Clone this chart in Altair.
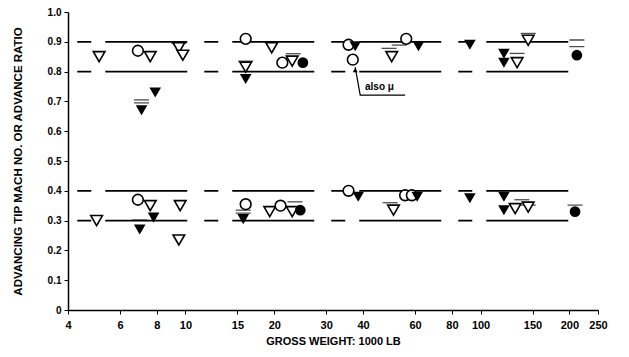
import altair as alt
import pandas as pd

# ---- data (gross weight in 1000 lb, ratio) ----
open_circle_x = [6.9, 16.0, 21.3, 35.7, 36.9, 56.0, 6.9, 16.0, 21.0, 35.7, 55.5, 58.5]
open_circle_y = [0.87, 0.91, 0.83, 0.89, 0.84, 0.91, 0.37, 0.355, 0.35, 0.40, 0.385, 0.385]

open_tri_x = [5.1, 7.6, 9.5, 9.8, 16.0, 19.6, 23.0, 50.0, 133.0, 145.0,
              5.0, 7.6, 9.6, 9.5, 19.3, 23.0, 50.7, 131.0, 145.0]
open_tri_y = [0.85, 0.85, 0.88, 0.855, 0.815, 0.88, 0.835, 0.85, 0.83, 0.905,
              0.30, 0.35, 0.35, 0.235, 0.33, 0.33, 0.335, 0.34, 0.345]

filled_tri_x = [7.1, 7.9, 16.0, 37.6, 61.6, 92.0, 120.0, 120.0,
                7.0, 7.8, 15.7, 38.5, 61.0, 92.0, 120.0, 120.0]
filled_tri_y = [0.67, 0.73, 0.775, 0.885, 0.885, 0.89, 0.86, 0.83,
                0.27, 0.31, 0.305, 0.38, 0.38, 0.375, 0.38, 0.335]

filled_circle_x = [25.0, 212.0, 24.5, 209.0]
filled_circle_y = [0.83, 0.855, 0.335, 0.33]

bar_x = [9.5, 7.1, 7.1, 16.0, 23.2, 49.0, 53.0, 145.0, 133.0, 212.0, 212.0,
         7.0, 15.7, 15.7, 23.5, 49.4, 145.0, 138.0, 209.0]
bar_y = [0.895, 0.705, 0.695, 0.835, 0.86, 0.878, 0.889, 0.928, 0.861, 0.884, 0.906,
         0.302, 0.335, 0.325, 0.363, 0.36, 0.352, 0.37, 0.352]

band_levels = [0.9, 0.8, 0.4, 0.3]
band_start = 4.3
band_end = 226.0

note_x = [37.6, 39.1, 55.5]
note_y = [0.815, 0.721, 0.721]
note_text = "also \u03bc"

x_ticks = [4, 6, 8, 10, 15, 20, 30, 40, 60, 80, 100, 150, 200, 250]
y_ticks = [0, 0.1, 0.2, 0.3, 0.4, 0.5, 0.6, 0.7, 0.8, 0.9, 1.0]

FONT = "Liberation Sans"

xs = alt.Scale(type="log", domain=[4, 250], nice=False, zero=False)
ys = alt.Scale(domain=[0, 1], nice=False, zero=False)

xenc = alt.X("w:Q", scale=xs, title="GROSS WEIGHT: 1000 LB",
             axis=alt.Axis(values=x_ticks, format="d", grid=False,
                           labelFontSize=11, labelFontWeight="bold",
                           titleFontSize=11, titleFontWeight="bold",
                           labelPadding=5, tickSize=4, titleY=31,
                           titleBaseline="middle",
                           labelFlush=False, labelOverlap=False,
                           domainColor="black", tickColor="black",
                           labelColor="black", titleColor="black",
                           domainWidth=1.5, titleFont=FONT, labelFont=FONT))
yenc = alt.Y("r:Q", scale=ys,
             title="ADVANCING TIP MACH NO. OR ADVANCE RATIO",
             axis=alt.Axis(values=y_ticks, grid=False,
                           labelExpr="datum.value == 0 ? '0' : format(datum.value, '.1f')",
                           labelFontSize=10, labelFontWeight="bold",
                           titleFontSize=11.5, titleFontWeight="bold",
                           labelPadding=3, tickSize=4,
                           titleX=-50, titleY=149, titleBaseline="middle",
                           labelFlush=False, labelOverlap=False,
                           domainColor="black", tickColor="black",
                           labelColor="black", titleColor="black",
                           domainWidth=1.5, titleFont=FONT, labelFont=FONT))


def pts(xv, yv):
    return pd.DataFrame({"w": xv, "r": yv})


lines_df = pd.DataFrame({"r": band_levels, "w": [band_start] * 4, "w2": [band_end] * 4})
lines = alt.Chart(lines_df).mark_rule(
    color="black", strokeWidth=1.8, strokeDash=[14, 14, 82, 17]
).encode(x=xenc, x2="w2:Q", y=yenc)

bars = alt.Chart(pts(bar_x, bar_y)).mark_tick(
    orient="horizontal", color="black", size=15, thickness=1.3
).encode(x=xenc, y=yenc)

oc = alt.Chart(pts(open_circle_x, open_circle_y)).mark_point(
    shape="circle", size=115, filled=True, fill="white", stroke="black",
    strokeWidth=1.6, opacity=1
).encode(x=xenc, y=yenc)

ot = alt.Chart(pts(open_tri_x, open_tri_y)).mark_point(
    shape="triangle-down", size=135, filled=True, fill="white", stroke="black",
    strokeWidth=1.6, opacity=1
).encode(x=xenc, y=yenc)

ft = alt.Chart(pts(filled_tri_x, filled_tri_y)).mark_point(
    shape="triangle-down", size=135, filled=True, color="black", opacity=1
).encode(x=xenc, y=yenc)

fc = alt.Chart(pts(filled_circle_x, filled_circle_y)).mark_point(
    shape="circle", size=115, filled=True, color="black", opacity=1
).encode(x=xenc, y=yenc)

note_df = pd.DataFrame({"w": note_x, "r": note_y, "o": [0, 1, 2]})
note_line = alt.Chart(note_df).mark_line(color="black", strokeWidth=1.2).encode(
    x=xenc, y=yenc, order="o:Q")
note_head = alt.Chart(pts([note_x[0]], [note_y[0] - 0.01])).mark_point(
    shape="triangle-up", size=25, filled=True, color="black", opacity=1
).encode(x=xenc, y=yenc)
note_lbl = alt.Chart(pd.DataFrame({"w": [40.6], "r": [0.75], "t": [note_text]})).mark_text(
    align="left", baseline="middle", fontSize=10, fontWeight="bold", font=FONT, color="black"
).encode(x=xenc, y=yenc, text="t:N")

chart = alt.layer(lines, bars, note_line, note_head, note_lbl, ot, oc, ft, fc).properties(
    width=530, height=298,
    autosize=alt.AutoSizeParams(type="none"),
    padding={"left": 60, "top": 4, "right": 20, "bottom": 45},
    background="white",
).configure_view(stroke=None)

chart.save("out.html", embed_options={"renderer": "svg", "actions": False})
